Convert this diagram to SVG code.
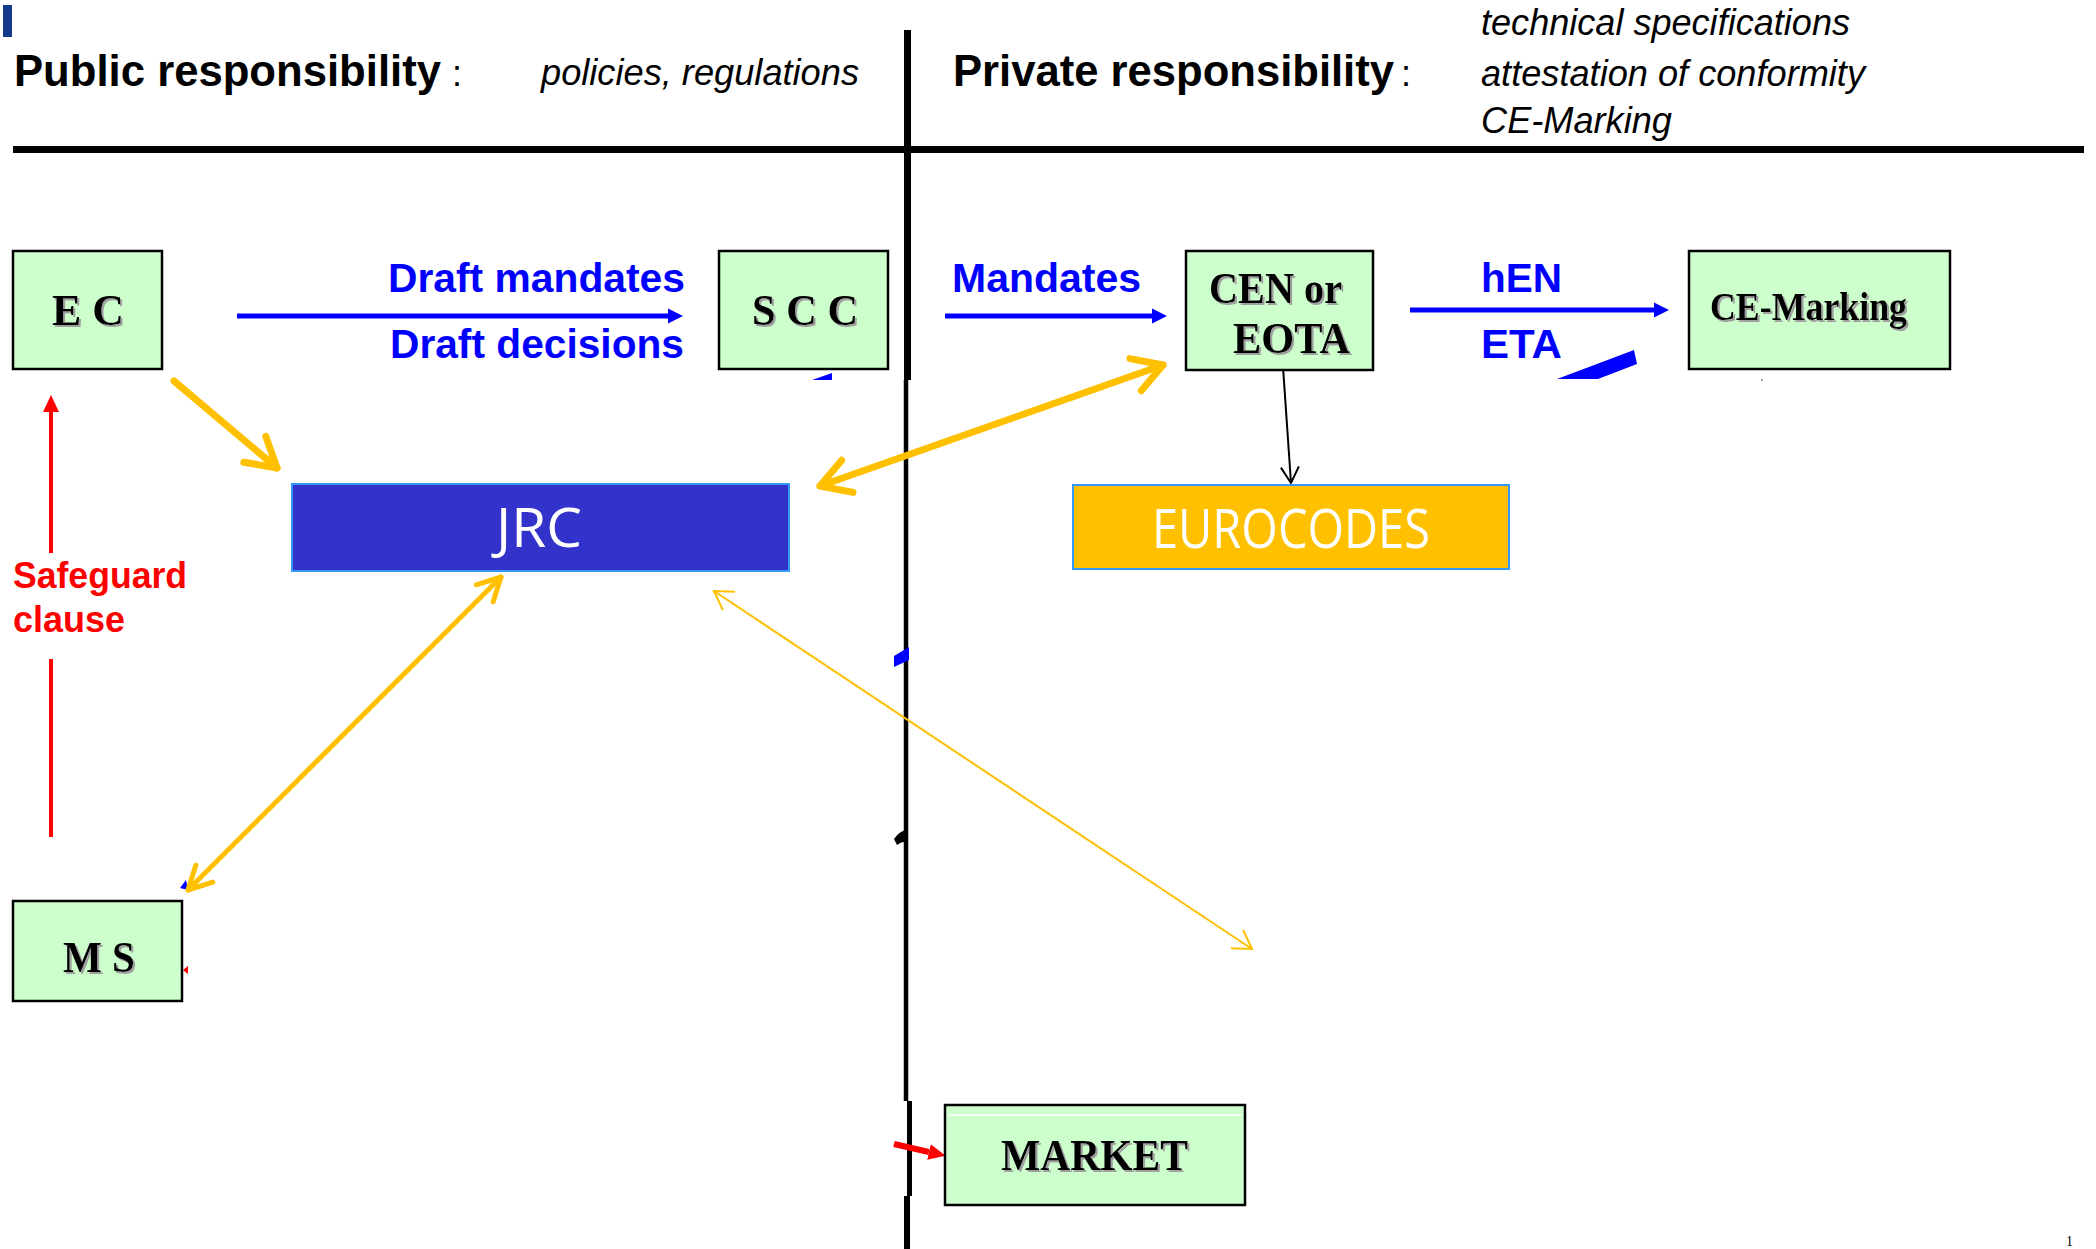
<svg xmlns="http://www.w3.org/2000/svg" width="2096" height="1249" viewBox="0 0 2096 1249">
<style>
.box{fill:#CCFFCC;stroke:#000;stroke-width:2.5}
.lbl{font-family:"Liberation Serif","Times New Roman",serif;font-weight:bold;fill:#000;filter:url(#sh)}
.head{font-family:"Liberation Sans",Arial,sans-serif;font-weight:bold;font-size:44px;fill:#000}
.ital{font-family:"Liberation Sans",Arial,sans-serif;font-style:italic;font-size:36px;fill:#000}
.blue{font-family:"Liberation Sans",Arial,sans-serif;font-weight:bold;font-size:41px;fill:#0000FF}
.red{font-family:"Liberation Sans",Arial,sans-serif;font-weight:bold;font-size:36px;fill:#FF0000}
.wt{font-family:"Open Sans","Noto Sans",sans-serif;fill:#FFFFFF}
.ba{stroke:#0000FF;stroke-width:5;fill:none;marker-end:url(#blueHead)}
.ya{stroke:#FFC000;fill:none;stroke-linecap:round}
</style>
<defs>
<filter id="sh" x="-10%" y="-10%" width="130%" height="140%">
<feDropShadow dx="2" dy="2" stdDeviation="0.6" flood-color="#A0A0A0" flood-opacity="1"/>
</filter>
<marker id="blueHead" markerUnits="userSpaceOnUse" viewBox="0 0 16 16" refX="0" refY="8" markerWidth="16" markerHeight="16" orient="auto">
<path d="M0,0.5 L15,8 L0,15.5 z" fill="#0000FF"/>
</marker>
<marker id="yBig" markerUnits="userSpaceOnUse" viewBox="-40 -25 50 50" refX="0" refY="0" markerWidth="50" markerHeight="50" orient="auto-start-reverse" overflow="visible">
<path d="M-29,-17 L0,0 L-29,17" fill="none" stroke="#FFC000" stroke-width="7" stroke-linecap="round" stroke-linejoin="round"/>
</marker>
<marker id="yMid" markerUnits="userSpaceOnUse" viewBox="-35 -20 45 40" refX="0" refY="0" markerWidth="45" markerHeight="40" orient="auto-start-reverse" overflow="visible">
<path d="M-23,-12 L0,0 L-23,12" fill="none" stroke="#FFC000" stroke-width="5" stroke-linecap="round" stroke-linejoin="round"/>
</marker>
<marker id="ySmall" markerUnits="userSpaceOnUse" viewBox="-30 -15 35 30" refX="0" refY="0" markerWidth="35" markerHeight="30" orient="auto-start-reverse" overflow="visible">
<path d="M-18,-11 L0,0 L-18,11" fill="none" stroke="#FFC000" stroke-width="2"/>
</marker>
<marker id="blackHead" markerUnits="userSpaceOnUse" viewBox="-25 -15 30 30" refX="0" refY="0" markerWidth="30" markerHeight="30" orient="auto" overflow="visible">
<path d="M-16,-9 L0,0 L-16,9" fill="none" stroke="#000" stroke-width="2"/>
</marker>
<marker id="redHead" markerUnits="userSpaceOnUse" viewBox="0 0 20 20" refX="0" refY="10" markerWidth="20" markerHeight="20" orient="auto">
<path d="M0,2 L17,10 L0,18 z" fill="#FF0000"/>
</marker>
</defs>

<rect width="2096" height="1249" fill="#FFFFFF"/>

<g id="frame">
<rect x="3" y="5" width="9" height="32" fill="#133A8A"/>
<line x1="13" y1="149.5" x2="2084" y2="149.5" stroke="#000" stroke-width="7"/>
<line x1="907.5" y1="30" x2="907.5" y2="380" stroke="#000" stroke-width="7"/>
<line x1="906" y1="380" x2="906" y2="1101" stroke="#000" stroke-width="4.5"/>
<line x1="909.5" y1="1101" x2="909.5" y2="1196" stroke="#000" stroke-width="5"/>
<line x1="907" y1="1196" x2="907" y2="1249" stroke="#000" stroke-width="6"/>
<text class="head" x="14" y="86" textLength="427" lengthAdjust="spacingAndGlyphs">Public responsibility</text>
<text x="452" y="86" font-family="Liberation Sans, Arial, sans-serif" font-size="36">:</text>
<text class="ital" x="541" y="85" textLength="318" lengthAdjust="spacingAndGlyphs">policies, regulations</text>
<text class="head" x="953" y="86" textLength="441" lengthAdjust="spacingAndGlyphs">Private responsibility</text>
<text x="1401" y="86" font-family="Liberation Sans, Arial, sans-serif" font-size="36">:</text>
<text class="ital" x="1481" y="35" textLength="369" lengthAdjust="spacingAndGlyphs">technical specifications</text>
<text class="ital" x="1481" y="86" textLength="384" lengthAdjust="spacingAndGlyphs">attestation of conformity</text>
<text class="ital" x="1481" y="133" textLength="191" lengthAdjust="spacingAndGlyphs">CE-Marking</text>
<text x="2066" y="1246" font-family="Liberation Serif, serif" font-size="14">1</text>
</g>

<g id="connectors">
<path class="ba" d="M237,316 H668"/>
<path class="ba" d="M945,316 H1152"/>
<path class="ba" d="M1410,310 H1654"/>
<path d="M1557,379 L1634,350 L1637,364 L1598,379 z" fill="#0000FF"/>
<path d="M812,380 L832,373 L832,380 z" fill="#0000FF"/>
<path d="M894,656 L909,647 L909,660 L894,667 z" fill="#0000FF"/>
<path d="M180,888 L186,880 L188,890 z" fill="#0000FF"/>
<path d="M894,839 Q900,830 908,830 L908,842 Q902,841 897,845 z" fill="#000"/>
<path d="M183,970 L188,966 L188,974 z" fill="#FF0000"/>
<circle cx="1762" cy="380" r="1" fill="#888"/>
<line class="ya" x1="174" y1="381" x2="277" y2="468" stroke-width="7" marker-end="url(#yBig)"/>
<line class="ya" x1="820" y1="486" x2="1163" y2="365" stroke-width="7" marker-start="url(#yBig)" marker-end="url(#yBig)"/>
<line class="ya" x1="188" y1="890" x2="501" y2="577" stroke-width="5" marker-start="url(#yMid)" marker-end="url(#yMid)"/>
<line x1="714" y1="591" x2="1252" y2="949" stroke="#FFC000" stroke-width="2" marker-start="url(#ySmall)" marker-end="url(#ySmall)"/>
<line x1="1283" y1="367" x2="1291" y2="483" stroke="#000" stroke-width="2" marker-end="url(#blackHead)"/>
<line x1="51" y1="837" x2="51" y2="659" stroke="#FF0000" stroke-width="4"/>
<line x1="51" y1="553" x2="51" y2="412" stroke="#FF0000" stroke-width="4" marker-end="url(#redHead)"/>
<line x1="894" y1="1144" x2="929" y2="1152" stroke="#FF0000" stroke-width="6" marker-end="url(#redHead)"/>
</g>

<g id="label-draft">
<text class="blue" x="388" y="292" textLength="297" lengthAdjust="spacingAndGlyphs">Draft mandates</text>
<text class="blue" x="390" y="358" textLength="294" lengthAdjust="spacingAndGlyphs">Draft decisions</text>
</g>
<g id="label-mandates">
<text class="blue" x="952" y="292" textLength="189" lengthAdjust="spacingAndGlyphs">Mandates</text>
</g>
<g id="label-hen">
<text class="blue" x="1481" y="292" textLength="81" lengthAdjust="spacingAndGlyphs">hEN</text>
<text class="blue" x="1481" y="358" textLength="81" lengthAdjust="spacingAndGlyphs">ETA</text>
</g>
<g id="label-safeguard">
<text class="red" x="13" y="588" textLength="174" lengthAdjust="spacingAndGlyphs">Safeguard</text>
<text class="red" x="13" y="632" textLength="112" lengthAdjust="spacingAndGlyphs">clause</text>
</g>

<g id="node-ec">
<rect class="box" x="13" y="251" width="149" height="118"/>
<text class="lbl" x="52" y="325" font-size="44" textLength="72" lengthAdjust="spacingAndGlyphs">E C</text>
</g>
<g id="node-scc">
<rect class="box" x="719" y="251" width="169" height="118"/>
<text class="lbl" x="752" y="325" font-size="44" textLength="106" lengthAdjust="spacingAndGlyphs">S C C</text>
</g>
<g id="node-cen">
<rect class="box" x="1186" y="251" width="187" height="119"/>
<text class="lbl" x="1209" y="303" font-size="44" textLength="133" lengthAdjust="spacingAndGlyphs">CEN or</text>
<text class="lbl" x="1233" y="353" font-size="44" textLength="117" lengthAdjust="spacingAndGlyphs">EOTA</text>
</g>
<g id="node-cemarking">
<rect class="box" x="1689" y="251" width="261" height="118"/>
<text class="lbl" x="1710" y="320" font-size="40" textLength="197" lengthAdjust="spacingAndGlyphs">CE-Marking</text>
</g>
<g id="node-jrc">
<rect x="292" y="484" width="497" height="87" fill="#3333CC" stroke="#3399FF" stroke-width="2"/>
<text class="wt" x="496" y="547" font-size="54" textLength="86" lengthAdjust="spacingAndGlyphs">JRC</text>
</g>
<g id="node-eurocodes">
<rect x="1073" y="485" width="436" height="84" fill="#FFC000" stroke="#3399FF" stroke-width="2"/>
<text class="wt" x="1152" y="548" font-size="54" textLength="278" lengthAdjust="spacingAndGlyphs">EUROCODES</text>
</g>
<g id="node-ms">
<rect class="box" x="13" y="901" width="169" height="100"/>
<text class="lbl" x="63" y="972" font-size="44" textLength="72" lengthAdjust="spacingAndGlyphs">M S</text>
</g>
<g id="node-market">
<rect class="box" x="945" y="1105" width="300" height="100"/>
<line x1="948" y1="1115" x2="1242" y2="1115" stroke="#FFFFFF" stroke-width="1.5"/>
<text class="lbl" x="1001" y="1170" font-size="44" textLength="187" lengthAdjust="spacingAndGlyphs">MARKET</text>
</g>
</svg>
